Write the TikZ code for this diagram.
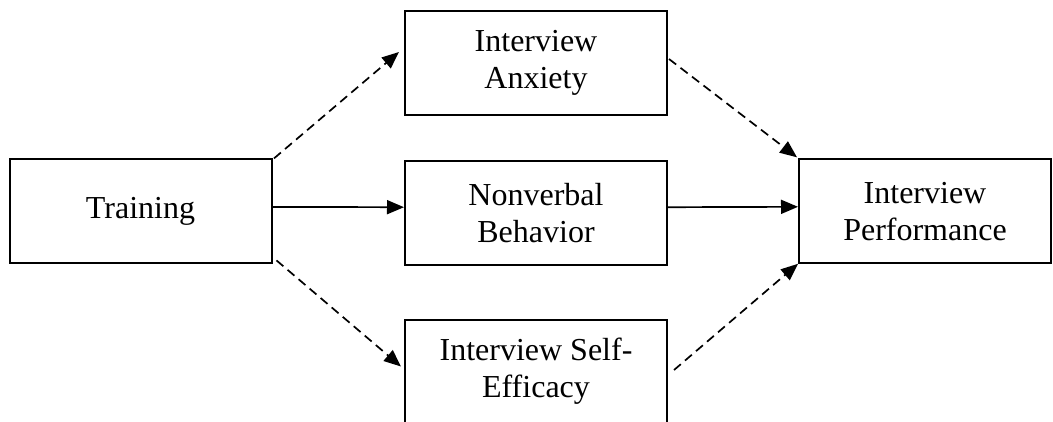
\documentclass[tikz,border=0pt]{standalone}
\usepackage{fontspec}
\setmainfont{Liberation Serif}
\usetikzlibrary{arrows.meta,calc}
\begin{document}
\begin{tikzpicture}[x=1pt,y=-1pt,
  box/.style={draw,line width=2pt,minimum width=262pt,minimum height=104pt,inner sep=0pt,align=center,font=\fontsize{32}{37}\selectfont},
  solidarrow/.style={line width=1.7pt,-{Triangle[length=17pt,width=14pt]}},
  dasharrow/.style={solidarrow,dash pattern=on 9pt off 5.5pt}]
\useasboundingbox (0,0) rectangle (1053,421);
\clip (0,0) rectangle (1053,421);
\node[box] (train) at (140.5,211.4) {Training};
\node[box] (anx) at (536,62.5) {Interview\\Anxiety};
\node[box] (nv) at (536,213.2) {Nonverbal\\Behavior};
\node[box] (eff) at (536,371.5) {Interview Self-\\Efficacy};
\node[box,minimum width=252pt] (perf) at (925,211.3) {Interview\\Performance};
\draw[dasharrow] ($(train.north east)+(1.5,0)$) -- ($(anx.west)+(-5,-10.5)$);
\draw[dasharrow] ($(train.south east)+(4,-4)$) -- ($(eff.west)+(-3,-5)$);
\draw[dasharrow] ($(anx.east)+(1,-3.5)$) -- ($(perf.north west)+(-1,-1)$);
\draw[dasharrow] ($(eff.east)+(6,-1.5)$) -- ($(perf.south west)+(0,-0.5)$);
\draw[solidarrow] ($(train.east)+(0,-4.5)$) -- ($(nv.west)+(0,-6)$);
\draw[solidarrow] ($(nv.east)+(0,-6)$) -- ($(perf.west)+(0,-4.5)$);
\end{tikzpicture}
\end{document}
